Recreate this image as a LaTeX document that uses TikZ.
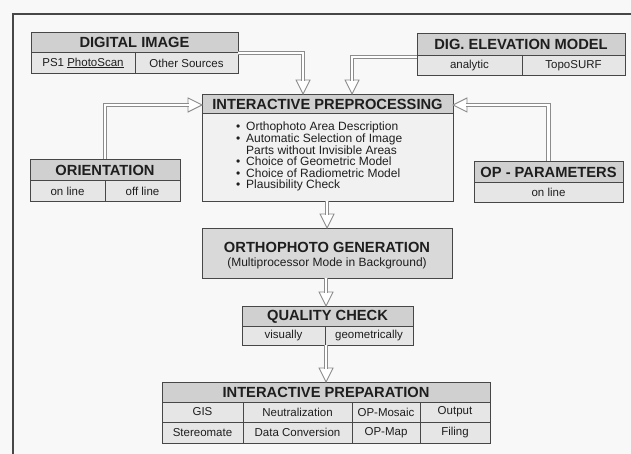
\documentclass[tikz,border=0pt]{standalone}
\usepackage{fontspec}
\setmainfont{Liberation Sans}
\usetikzlibrary{calc}
\definecolor{ln}{HTML}{474747}
\definecolor{hdr}{HTML}{D0D0D0}
\definecolor{rowc}{HTML}{E6E6E6}
\definecolor{bodyc}{HTML}{F1F1F1}
\definecolor{arr}{HTML}{8C8C8C}
\definecolor{txt}{HTML}{1E1E1E}
\definecolor{bg}{HTML}{F8F8F8}
\newcommand\tipdown[1]{\draw[headst] (#1) -- ++(-7,-14) -- ++(14,0) -- cycle;}
\newcommand\tipright[1]{\draw[headst] (#1) -- ++(-14,-7) -- ++(0,14) -- cycle;}
\newcommand\tipleft[1]{\draw[headst] (#1) -- ++(14,-7) -- ++(0,14) -- cycle;}
\newcommand\bul{\makebox[10pt][l]{\textbullet}}
\newcommand\nobul{\makebox[10pt][l]{}}
\begin{document}
\begin{tikzpicture}[x=1pt,y=-1pt,
  boxshape/.style={inner sep=0pt, outer sep=0pt, anchor=north west},
  border/.style={draw=ln, line width=0.9pt},
  sepl/.style={draw=ln, line width=0.7pt},
  ttl/.style={font=\fontsize{14.7}{16}\selectfont\bfseries, text=txt, inner sep=0pt},
  cell/.style={font=\fontsize{11.5}{13}\selectfont, text=txt, inner sep=0pt},
  shaft/.style={draw=arr, line width=0.9pt, double=white, double distance=2.8pt, line join=miter},
  headst/.style={draw=arr, fill=white, line width=0.9pt, line join=miter},
  frame/.style={draw=ln, line width=1.3pt}]
\fill[bg] (0,0) rectangle (631,454);
\useasboundingbox (0,0) rectangle (631,454);
\draw[frame] (13,454) -- (13,14) -- (631,14);

% ---------- DIGITAL IMAGE
\node[boxshape, fill=rowc, minimum width=207pt, minimum height=41pt] (di) at (31,32) {};
\fill[hdr] (di.north west) rectangle ($(di.north east)+(0,20)$);
\draw[sepl] ($(di.north west)+(0,20)$) -- ($(di.north east)+(0,20)$);
\draw[sepl] (135,52) -- (di.south -| 135,0);
\draw[border] (di.north west) rectangle (di.south east);
\node[ttl] (dit) at (134.5,42.5) {DIGITAL IMAGE};
\node[cell] (dia) at (83,63) {PS1 \underline{PhotoScan}};
\node[cell] (dib) at (186.5,63) {Other Sources};

% ---------- DIG. ELEVATION MODEL
\node[boxshape, fill=rowc, minimum width=208pt, minimum height=42pt] (dem) at (417,33) {};
\fill[hdr] (dem.north west) rectangle ($(dem.north east)+(0,22)$);
\draw[sepl] ($(dem.north west)+(0,22)$) -- ($(dem.north east)+(0,22)$);
\draw[sepl] (522,55) -- (dem.south -| 522,0);
\draw[border] (dem.north west) rectangle (dem.south east);
\node[ttl] (demt) at (521,44) {DIG. ELEVATION MODEL};
\node[cell] (dema) at (469.5,65.5) {analytic};
\node[cell] (demb) at (573.5,65.5) {TopoSURF};

% ---------- INTERACTIVE PREPROCESSING
\node[boxshape, fill=bodyc, minimum width=251pt, minimum height=107pt] (ip) at (202,94) {};
\fill[hdr] (ip.north west) rectangle ($(ip.north east)+(0,19)$);
\draw[sepl] ($(ip.north west)+(0,19)$) -- ($(ip.north east)+(0,19)$);
\draw[border] (ip.north west) rectangle (ip.south east);
\node[ttl] (ipt) at (327.5,104) {INTERACTIVE PREPROCESSING};
\node[cell, anchor=north west, align=left, font=\fontsize{12}{11.6}\selectfont] (ipl) at (236,122)
  {\bul Orthophoto Area Description\\
   \bul Automatic Selection of Image\\
   \nobul Parts without Invisible Areas\\
   \bul Choice of Geometric Model\\
   \bul Choice of Radiometric Model\\
   \bul Plausibility Check};

% ---------- ORIENTATION
\node[boxshape, fill=rowc, minimum width=150pt, minimum height=42pt] (ori) at (30,159) {};
\fill[hdr] (ori.north west) rectangle ($(ori.north east)+(0,21)$);
\draw[sepl] ($(ori.north west)+(0,21)$) -- ($(ori.north east)+(0,21)$);
\draw[sepl] (105,180) -- (ori.south);
\draw[border] (ori.north west) rectangle (ori.south east);
\node[ttl] (orit) at (105,170) {ORIENTATION};
\node[cell] (oria) at (67.5,191) {on line};
\node[cell] (orib) at (142.5,191) {off line};

% ---------- OP - PARAMETERS
\node[boxshape, fill=rowc, minimum width=149pt, minimum height=41pt] (opp) at (474,161) {};
\fill[hdr] (opp.north west) rectangle ($(opp.north east)+(0,21)$);
\draw[sepl] ($(opp.north west)+(0,21)$) -- ($(opp.north east)+(0,21)$);
\draw[border] (opp.north west) rectangle (opp.south east);
\node[ttl] (oppt) at (548.5,172) {OP - PARAMETERS};
\node[cell] (oppa) at (548.5,192.5) {on line};

% ---------- ORTHOPHOTO GENERATION
\node[boxshape, fill=hdr!80!white, minimum width=250pt, minimum height=50pt] (og) at (202,228) {};
\draw[border] (og.north west) rectangle (og.south east);
\node[ttl] (ogt) at (327,247) {ORTHOPHOTO GENERATION};
\node[cell, font=\fontsize{12}{13}\selectfont] (ogs) at (327,263.5) {(Multiprocessor Mode in Background)};

% ---------- QUALITY CHECK
\node[boxshape, fill=rowc, minimum width=171pt, minimum height=39pt] (qc) at (242,306) {};
\fill[hdr] (qc.north west) rectangle ($(qc.north east)+(0,20)$);
\draw[sepl] ($(qc.north west)+(0,20)$) -- ($(qc.north east)+(0,20)$);
\draw[sepl] (325,326) -- (qc.south -| 325,0);
\draw[border] (qc.north west) rectangle (qc.south east);
\node[ttl] (qct) at (327.5,316.5) {QUALITY CHECK};
\node[cell] (qca) at (283.5,335.5) {visually};
\node[cell] (qcb) at (369,335.5) {geometrically};

% ---------- INTERACTIVE PREPARATION
\node[boxshape, fill=rowc, minimum width=328pt, minimum height=61pt] (ipr) at (162,382) {};
\fill[hdr] (ipr.north west) rectangle ($(ipr.north east)+(0,20)$);
\draw[sepl] ($(ipr.north west)+(0,20)$) -- ($(ipr.north east)+(0,20)$);
\draw[sepl] ($(ipr.north west)+(0,40)$) -- ($(ipr.north east)+(0,40)$);
\foreach \cx in {243,352,420} {\draw[sepl] (\cx,402) -- (ipr.south -| \cx,0);}
\draw[border] (ipr.north west) rectangle (ipr.south east);
\node[ttl] (iprt) at (326,392) {INTERACTIVE PREPARATION};
\node[cell] (c11) at (202.5,412) {GIS};
\node[cell] (c12) at (297.5,412) {Neutralization};
\node[cell] (c13) at (386,412) {OP-Mosaic};
\node[cell] (c14) at (455,412) {Output};
\node[cell] (c21) at (202.5,432.5) {Stereomate};
\node[cell] (c22) at (297.5,432.5) {Data Conversion};
\node[cell] (c23) at (386,432.5) {OP-Map};
\node[cell] (c24) at (455,432.5) {Filing};

% ---------- connectors
\coordinate (t1) at ($(ip.north west)+(101,0)$);
\tipdown{t1}
\draw[shaft] (di.east |- 0,53) -| ($(t1)+(0,-13)$);

\coordinate (t2) at ($(ip.north west)+(150,0)$);
\tipdown{t2}
\draw[shaft] (dem.west |- 0,57) -| ($(t2)+(0,-13)$);

\coordinate (t3) at (ip.west |- 0,105);
\tipright{t3}
\draw[shaft] (ori.north) |- ($(t3)+(-13,0)$);

\coordinate (t4) at (ip.east |- 0,105);
\tipleft{t4}
\draw[shaft] (opp.north) |- ($(t4)+(13,0)$);

\coordinate (t5) at (og.north -| 327,0);
\tipdown{t5}
\draw[shaft] (ip.south -| 327,0) -- ($(t5)+(0,-13)$);

\coordinate (t6) at (qc.north -| 326,0);
\tipdown{t6}
\draw[shaft] (og.south -| 326,0) -- ($(t6)+(0,-13)$);

\coordinate (t7) at (ipr.north -| 326,0);
\tipdown{t7}
\draw[shaft] (qc.south -| 326,0) -- ($(t7)+(0,-13)$);
\end{tikzpicture}
\end{document}
